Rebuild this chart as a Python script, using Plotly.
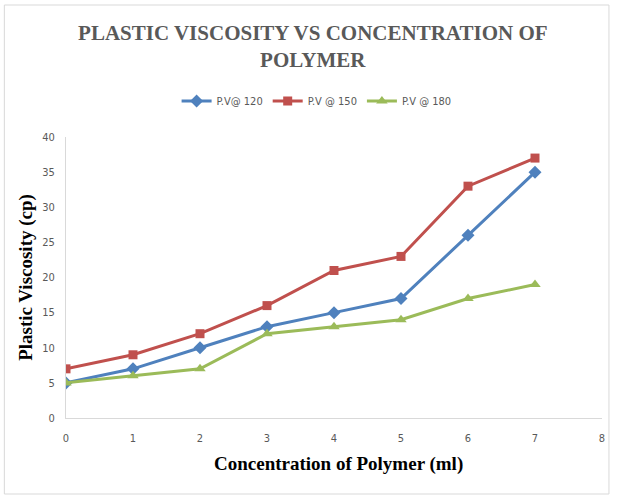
import plotly.graph_objects as go

concentration = [0, 1, 2, 3, 4, 5, 6, 7]
pv_120 = [5, 7, 10, 13, 15, 17, 26, 35]
pv_150 = [7, 9, 12, 16, 21, 23, 33, 37]
pv_180 = [5, 6, 7, 12, 13, 14, 17, 19]

series = [
    ("P.V@ 120", pv_120, "#4F81BD", "diamond", 10),
    ("P.V @ 150", pv_150, "#C0504D", "square", 9),
    ("P.V @ 180", pv_180, "#9BBB59", "triangle-up", 10),
]

fig = go.Figure()
for name, vals, color, symbol, size in series:
    fig.add_trace(go.Scatter(
        x=concentration, y=vals, name=name, mode="lines+markers",
        line=dict(color=color, width=3),
        marker=dict(symbol=symbol, size=size, color=color),
    ))

W, H = 617, 498
L, R, T, B = 66, 12, 137, 80
pw, ph = W - L - R, H - T - B

def px_x(p):
    return (p - L) / pw

def px_y(p):
    return (H - B - p) / ph

label_font = dict(family="DejaVu Sans Condensed", size=11, color="#595959")
axis_title_font = dict(family="Liberation Serif", size=19, color="black", weight="bold")

fig.update_layout(
    width=W, height=H,
    margin=dict(l=L, r=R, t=T, b=B),
    paper_bgcolor="white", plot_bgcolor="white",
    title=dict(
        text="PLASTIC VISCOSITY VS CONCENTRATION OF<br>POLYMER",
        x=0.507, xanchor="center", y=1 - 40 / H, yanchor="middle",
        font=dict(family="Liberation Serif", size=21, color="#595959", weight="bold"),
    ),
    legend=dict(
        orientation="h", x=px_x(318), xanchor="center", y=px_y(101), yanchor="middle",
        font=label_font, itemwidth=30, tracegroupgap=0,
    ),
    xaxis=dict(
        range=[0, 8], dtick=1, showgrid=False, zeroline=False,
        showline=True, linecolor="#D9D9D9", linewidth=1,
        ticks="", ticklabelstandoff=10, tickfont=label_font,
    ),
    yaxis=dict(
        range=[0, 40], dtick=5, showgrid=False, zeroline=False,
        showline=True, linecolor="#D9D9D9", linewidth=1,
        ticks="", ticklabelstandoff=8, tickfont=label_font,
        title=dict(text="Plastic Viscosity (cp)", standoff=4, font=axis_title_font),
    ),
    annotations=[dict(
        text="Concentration of Polymer (ml)", showarrow=False,
        xref="paper", yref="paper", x=px_x(340), y=px_y(464),
        xanchor="center", yanchor="middle", font=axis_title_font,
    )],
    shapes=[dict(
        type="rect", xref="paper", yref="paper",
        x0=px_x(4), x1=px_x(612), y0=px_y(494), y1=px_y(5),
        line=dict(color="#D9D9D9", width=1), layer="below",
    )],
)

fig.write_html("out.html")
